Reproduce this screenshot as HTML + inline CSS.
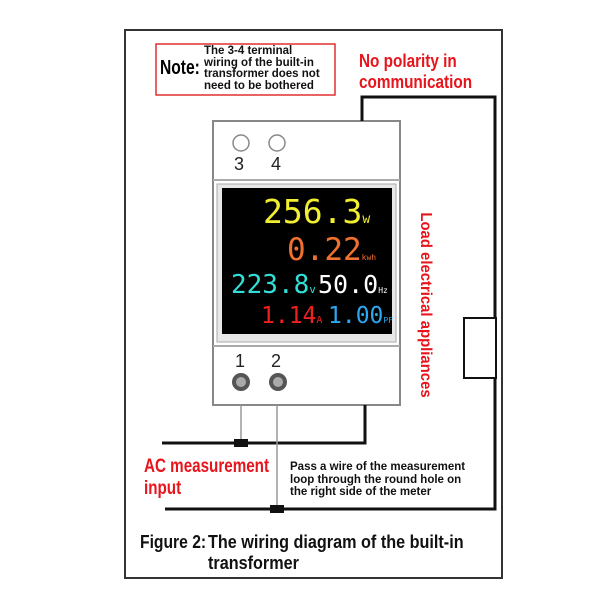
<!DOCTYPE html>
<html><head><style>
body{margin:0;width:616px;height:600px;background:#fff;position:relative;overflow:hidden;font-family:"Liberation Sans",sans-serif}
.a{position:absolute;white-space:nowrap}
.cond{font-family:"Liberation Sans",sans-serif;font-weight:bold;transform-origin:0 0}
.red{color:#e8141c}
.seg{font-family:"DejaVu Sans Mono","Liberation Mono",monospace;letter-spacing:0}
</style></head><body>
<svg class="a" style="left:0;top:0" width="616" height="600">
<rect x="125" y="30" width="377" height="548" fill="none" stroke="#333" stroke-width="2"/>
<rect x="156" y="44" width="179" height="51" fill="#fff" stroke="#e03030" stroke-width="1.5"/>
<rect x="213" y="121" width="187" height="284" fill="#fff" stroke="#888" stroke-width="2"/>
<line x1="213" y1="180" x2="400" y2="180" stroke="#aaa" stroke-width="2"/>
<line x1="213" y1="346" x2="400" y2="346" stroke="#aaa" stroke-width="2"/>
<rect x="217" y="184" width="179" height="158" fill="#e8e8e8" stroke="#aaa"/>
<rect x="222" y="188" width="170" height="146" fill="#000"/>
<circle cx="241" cy="143" r="8" fill="#fff" stroke="#888" stroke-width="1.5"/>
<circle cx="277" cy="143" r="8" fill="#fff" stroke="#888" stroke-width="1.5"/>
<circle cx="241" cy="382" r="9" fill="#555"/>
<circle cx="278" cy="382" r="9" fill="#555"/>
<circle cx="241" cy="382" r="5" fill="#aaa"/>
<circle cx="278" cy="382" r="5" fill="#aaa"/>
<polyline points="362,121 362,97 495,97 495,318" fill="none" stroke="#111" stroke-width="3"/>
<rect x="464" y="318" width="32" height="60" fill="#fff" stroke="#111" stroke-width="2"/>
<polyline points="495,378 495,509 165,509" fill="none" stroke="#111" stroke-width="3"/>
<polyline points="162,443 365,443 365,405" fill="none" stroke="#111" stroke-width="3"/>
<line x1="241" y1="405" x2="241" y2="443" stroke="#999" stroke-width="1.5"/>
<line x1="277" y1="405" x2="277" y2="509" stroke="#999" stroke-width="1.5"/>
<rect x="234" y="439" width="14" height="8" fill="#111"/>
<rect x="270" y="505" width="14" height="8" fill="#111"/>
</svg>
<div class="a cond" style="left:160px;top:57px;font-size:20px;transform:scaleX(.78)">Note:</div>
<div class="a" style="left:204px;top:46px;font-size:11.5px;line-height:11.5px;font-weight:bold;color:#111">The 3-4 terminal<br>wiring of the built-in<br>transformer does not<br>need to be bothered</div>
<div class="a cond red" style="left:359px;top:51px;font-size:18px;line-height:21px;transform:scaleX(.85)">No polarity in<br>communication</div>
<div class="a" style="left:234px;top:154px;font-size:18px;color:#222">3</div>
<div class="a" style="left:271px;top:154px;font-size:18px;color:#222">4</div>
<div class="a" style="left:235px;top:351px;font-size:18px;color:#222">1</div>
<div class="a" style="left:271px;top:351px;font-size:18px;color:#222">2</div>
<div class="a seg" style="left:263px;top:192px;font-size:33px;color:#f2ee30">256.3<span style="font-size:13px">w</span></div>
<div class="a seg" style="left:287px;top:232px;font-size:31px;color:#f07030">0.22<span style="font-size:8px">kwh</span></div>
<div class="a seg" style="left:231px;top:270px;font-size:26px;color:#30e0d8">223.8<span style="font-size:11px">v</span></div>
<div class="a seg" style="left:318px;top:270px;font-size:25px;color:#fff">50.0<span style="font-size:8px">Hz</span></div>
<div class="a seg" style="left:261px;top:303px;font-size:23px;color:#f02020">1.14<span style="font-size:10px">A</span></div>
<div class="a seg" style="left:328px;top:303px;font-size:23px;color:#2aa8f0">1.00<span style="font-size:8px">PF</span></div>
<div class="a red" style="left:325px;top:296px;width:200px;text-align:center;font-size:16px;font-weight:bold;transform:rotate(90deg) scaleX(.93);transform-origin:50% 50%">Load electrical appliances</div>
<div class="a cond red" style="left:144px;top:456px;font-size:19px;line-height:22px;transform:scaleX(.8)">AC measurement<br>input</div>
<div class="a" style="left:290px;top:461px;font-size:11.5px;line-height:12.5px;font-weight:bold;color:#111">Pass a wire of the measurement<br>loop through the round hole on<br>the right side of the meter</div>
<div class="a cond" style="left:140px;top:532px;font-size:18px;color:#111;transform:scaleX(.87)">Figure 2:</div>
<div class="a cond" style="left:208px;top:532px;font-size:18px;line-height:21px;color:#111;transform:scaleX(.9)">The wiring diagram of the built-in<br>transformer</div>
</body></html>
